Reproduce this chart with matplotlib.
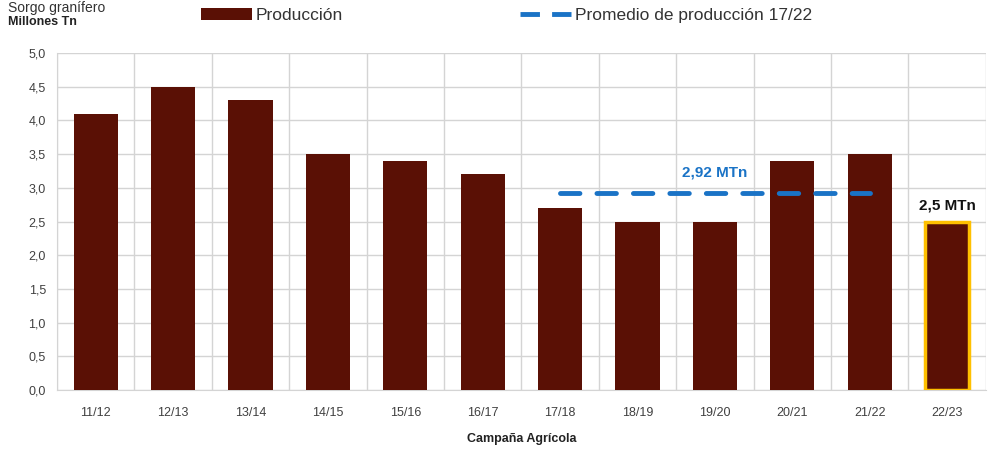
import numpy as np
import matplotlib.pyplot as plt
from matplotlib.patches import Patch
from matplotlib.lines import Line2D

plt.rcParams['font.family'] = ['Liberation Sans', 'DejaVu Sans']

campanas = ['11/12', '12/13', '13/14', '14/15', '15/16', '16/17',
            '17/18', '18/19', '19/20', '20/21', '21/22', '22/23']
produccion = [4.1, 4.5, 4.3, 3.5, 3.4, 3.2, 2.7, 2.5, 2.5, 3.4, 3.5, 2.5]
promedio = 2.92
prom_desde, prom_hasta = 6, 10  # 17/18 .. 21/22

bar_color = '#5a1005'
blue = '#1a73c6'
grid_c = '#d4d4d4'

fig = plt.figure(figsize=(9.88, 4.54), dpi=100)
ax = fig.add_axes([0.0577, 0.141, 0.940, 0.742])

x = np.arange(len(campanas))
edges = ['none'] * (len(campanas) - 1) + ['#ffc000']
lws = [0] * (len(campanas) - 1) + [2.5]
ax.bar(x, produccion, width=0.57, color=bar_color, edgecolor=edges, linewidth=lws, zorder=3)

ax.plot([prom_desde, prom_hasta], [promedio, promedio], color=blue, lw=3.5,
        dashes=(4, 3.5), solid_capstyle='round', dash_capstyle='round', zorder=4)
ax.text((prom_desde + prom_hasta) / 2, promedio + 0.2, '2,92 MTn', color=blue,
        fontsize=11, fontweight='bold', ha='center', va='bottom')
ax.text(x[-1], produccion[-1] + 0.13, '2,5 MTn', color='#111111',
        fontsize=11, fontweight='bold', ha='center', va='bottom')

ax.set_xlim(-0.5, len(campanas) - 0.5)
ax.set_ylim(0, 5)
ax.set_yticks(np.arange(0, 5.01, 0.5))
ax.set_yticklabels([f'{v:.1f}'.replace('.', ',') for v in np.arange(0, 5.01, 0.5)])
ax.set_xticks(x)
ax.set_xticklabels(campanas)
ax.set_xticks(np.arange(-0.5, len(campanas)), minor=True)
ax.grid(True, which='major', axis='y', color=grid_c, lw=1, zorder=0)
ax.grid(True, which='minor', axis='x', color=grid_c, lw=1, zorder=0)
ax.tick_params(axis='both', which='both', length=0, labelsize=9, colors='#404040')
ax.tick_params(axis='x', pad=12)
ax.tick_params(axis='y', pad=8)
for s in ax.spines.values():
    s.set_color(grid_c)
ax.spines['top'].set_visible(False)
ax.spines['right'].set_visible(False)

ax.set_xlabel('Campaña Agrícola', fontsize=9, fontweight='bold', color='#222222', labelpad=10)
fig.text(0.008, 0.952, 'Millones Tn', fontsize=9, fontweight='bold', color='#222222', va='center')
fig.text(0.008, 0.997, 'Sorgo granífero', fontsize=10, color='#333333', va='top')

handles = [Patch(facecolor=bar_color, edgecolor='none'),
           Line2D([0], [0], color=blue, lw=3.5, dashes=(4, 2.5))]
fig.legend(handles, ['Producción', 'Promedio de producción 17/22'],
           loc='center left', bbox_to_anchor=(0.188, 0.965), ncol=2, frameon=False,
           fontsize=12.5, handlelength=2.9, handletextpad=0.25, columnspacing=10.2,
           labelcolor='#333333')

fig.savefig('out.png', dpi=100)
